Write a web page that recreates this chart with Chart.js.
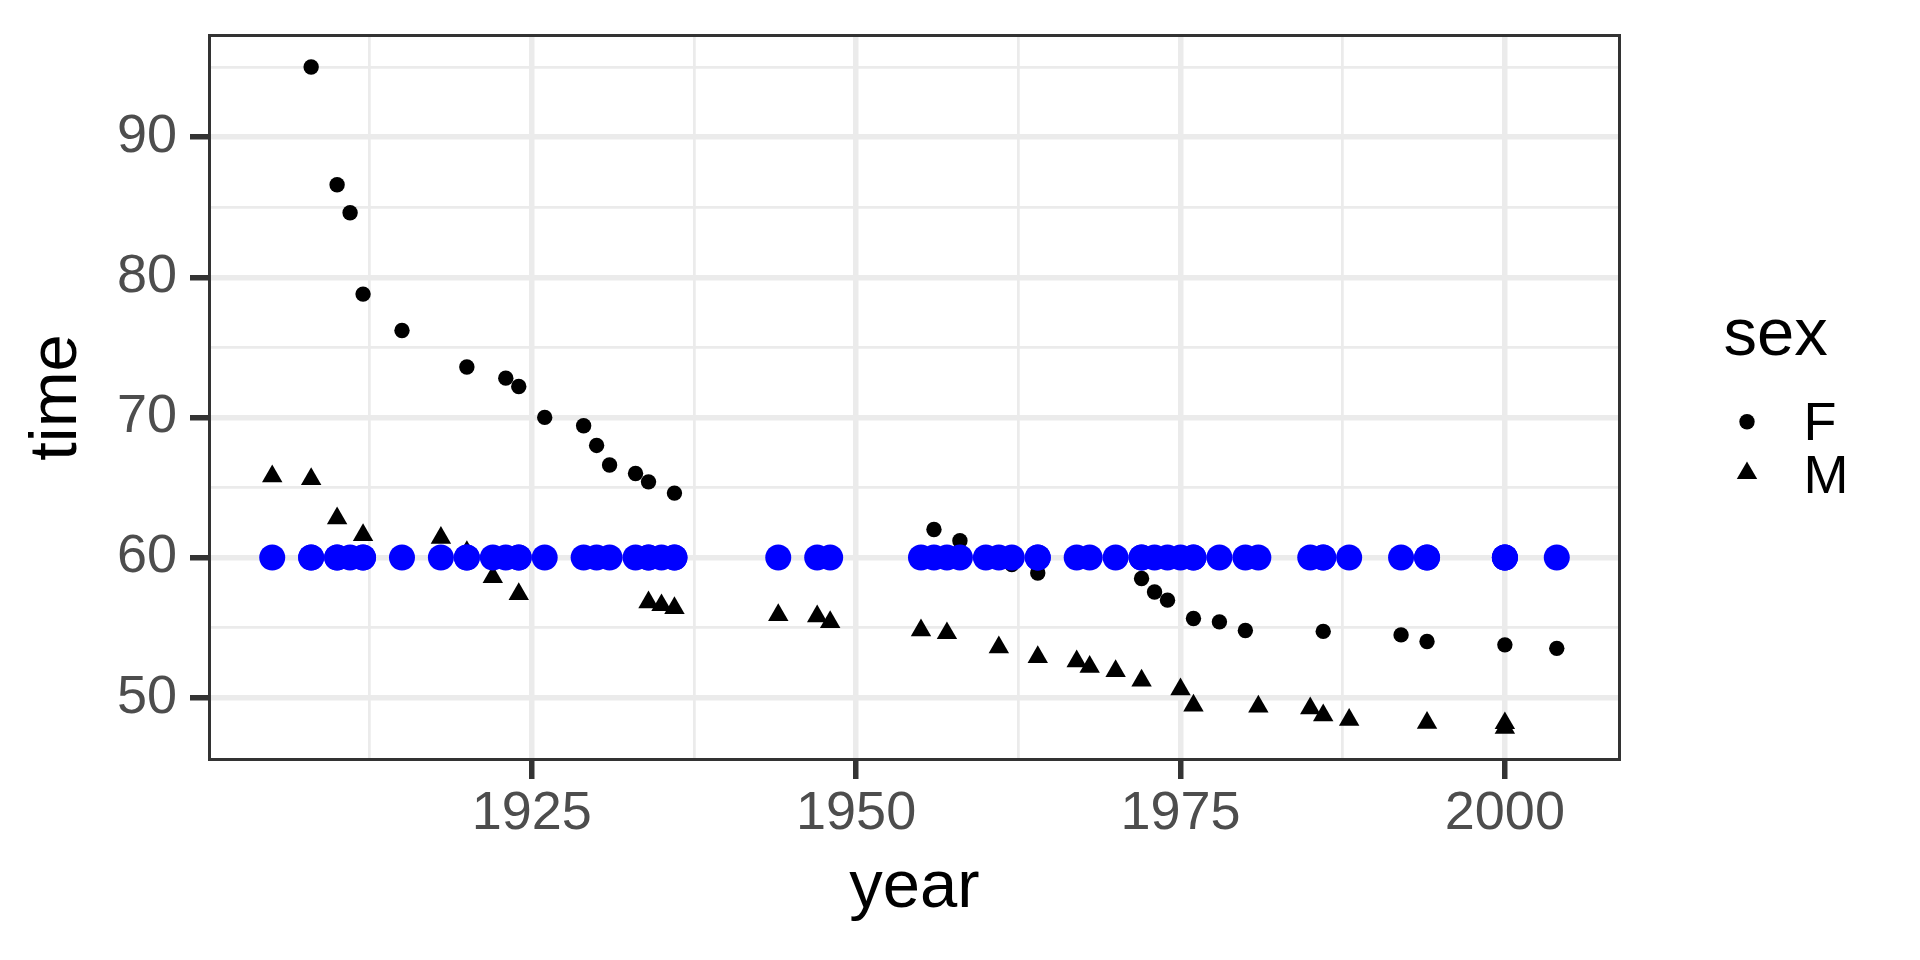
<!DOCTYPE html>
<html>
<head>
<meta charset="utf-8">
<script src="https://cdn.jsdelivr.net/npm/chart.js@4/dist/chart.umd.min.js"></script>
<style>
  html, body { margin: 0; padding: 0; background: #ffffff; }
  #wrap { width: 1920px; height: 960px; }
</style>
</head>
<body>
<div id="wrap"><canvas id="c" width="1920" height="960"></canvas></div>
<script>
// ---- data (100 m freestyle world records) ----
const maleYears = [1905,1908,1910,1912,1918,1920,1922,1924,1934,1935,1936,1944,1947,1948,1955,1957,1961,1964,1967,1968,1970,1972,1975,1976,1981,1985,1986,1988,1994,2000,2000];
const maleTimes = [65.8,65.6,62.8,61.6,61.4,60.4,58.6,57.4,56.8,56.6,56.4,55.9,55.8,55.4,54.8,54.6,53.6,52.9,52.6,52.2,51.9,51.22,50.59,49.44,49.36,49.24,48.74,48.42,48.21,48.18,47.84];
const femaleYears = [1908,1910,1911,1912,1915,1920,1923,1924,1926,1929,1930,1931,1933,1934,1936,1956,1958,1960,1962,1964,1972,1973,1974,1976,1978,1980,1986,1992,1994,2000,2004];
const femaleTimes = [95,86.6,84.6,78.8,76.2,73.6,72.8,72.2,70,69.4,68,66.6,66,65.4,64.6,62,61.2,60.2,59.5,58.9,58.5,57.54,56.96,55.65,55.41,54.79,54.73,54.48,54.01,53.77,53.52];
const refTime = 60;
const xTicks = [1912.5,1925,1937.5,1950,1962.5,1975,1987.5,2000];
const xMajor = [1925,1950,1975,2000];
const yTicks = [50,55,60,65,70,75,80,85,90,95];
const yMajor = [50,60,70,80,90];
const legendTitle = 'sex';
const legendLabels = ['F','M'];

const FONT = '"Liberation Sans", Arial, Helvetica, sans-serif';
Chart.defaults.font.family = FONT;

const allYears = maleYears.concat(femaleYears);
const xMin = 1905 - 0.05 * (2004 - 1905), xMax = 2004 + 0.05 * (2004 - 1905);
const yLo = 47.84, yHi = 95;
const yMin = yLo - 0.05 * (yHi - yLo), yMax = yHi + 0.05 * (yHi - yLo);

const GRID = '#EBEBEB', DARK = '#333333';
const MAJOR_W = 5.5, MINOR_W = 2.75;

const panelPlugin = {
  id: 'panel',
  afterDatasetsDraw(chart) {
    const {ctx, chartArea: a} = chart;
    ctx.save();
    ctx.strokeStyle = DARK;
    ctx.lineWidth = 3;
    ctx.strokeRect(a.left + 1.5, a.top + 1.5, a.right - a.left - 3, a.bottom - a.top - 3);
    ctx.restore();
  },
  afterDraw(chart) {
    const {ctx, chartArea: a} = chart;
    const cy = (a.top + a.bottom) / 2;
    const x0 = a.right;
    ctx.save();
    ctx.fillStyle = '#000000';
    ctx.textAlign = 'left';
    ctx.textBaseline = 'alphabetic';
    ctx.font = '67px ' + FONT;
    ctx.fillText(legendTitle, x0 + 102.5, cy - 42.5);
    ctx.font = '54px ' + FONT;
    ctx.fillText(legendLabels[0], x0 + 182.5, cy + 42.5);
    ctx.fillText(legendLabels[1], x0 + 182.5, cy + 95.8);
    Chart.helpers.drawPoint(ctx, {pointStyle: 'circle', radius: 7.7, rotation: 0, borderWidth: 0}, x0 + 126, cy + 24.2);
    ctx.fillStyle = '#000000';
    Chart.helpers.drawPoint(ctx, {pointStyle: 'triangle', radius: 11.8, rotation: 0, borderWidth: 0}, x0 + 126, cy + 75.7);
    ctx.restore();
  }
};

const toXY = (xs, ys) => xs.map((x, i) => ({x: x, y: ys[i]}));

new Chart(document.getElementById('c'), {
  type: 'scatter',
  data: {
    datasets: [
      {
        label: 'ref',
        data: allYears.map(x => ({x: x, y: refTime})),
        pointStyle: 'circle', pointRadius: 13, pointBorderWidth: 0,
        backgroundColor: '#0000FF', borderColor: '#0000FF', order: 0
      },
      {
        label: 'F',
        data: toXY(femaleYears, femaleTimes),
        pointStyle: 'circle', pointRadius: 7.7, pointBorderWidth: 0,
        backgroundColor: '#000000', borderColor: '#000000', order: 1
      },
      {
        label: 'M',
        data: toXY(maleYears, maleTimes),
        pointStyle: 'triangle', pointRadius: 11.8, pointBorderWidth: 0,
        backgroundColor: '#000000', borderColor: '#000000', order: 2
      }
    ]
  },
  options: {
    responsive: false,
    animation: false,
    events: [],
    devicePixelRatio: 1,
    layout: { padding: { top: 34, right: 299, bottom: 0, left: 0 } },
    plugins: { legend: { display: false }, tooltip: { enabled: false } },
    scales: {
      x: {
        type: 'linear', min: xMin, max: xMax,
        afterBuildTicks: s => { s.ticks = xTicks.map(v => ({value: v})); },
        afterFit: s => { s.height = 199; s.paddingLeft = 0; s.paddingRight = 0; },
        border: { display: false },
        grid: {
          color: GRID,
          lineWidth: c => (c.tick && xMajor.includes(c.tick.value)) ? MAJOR_W : MINOR_W,
          tickColor: c => (c.tick && xMajor.includes(c.tick.value)) ? DARK : 'rgba(0,0,0,0)',
          tickWidth: MAJOR_W,
          tickLength: 18,
          drawTicks: true
        },
        ticks: {
          autoSkip: false, maxRotation: 0, minRotation: 0,
          color: '#4D4D4D', padding: 8,
          font: { size: 54, lineHeight: 1 },
          callback: v => xMajor.includes(v) ? String(v) : ''
        },
        title: {
          display: true, text: 'year', color: '#000000',
          font: { size: 67, lineHeight: 1 },
          padding: { top: 0, bottom: 38 }
        }
      },
      y: {
        type: 'linear', min: yMin, max: yMax,
        afterBuildTicks: s => { s.ticks = yTicks.map(v => ({value: v})); },
        afterFit: s => { s.width = 208; s.paddingTop = 0; s.paddingBottom = 0; },
        border: { display: false },
        grid: {
          color: GRID,
          lineWidth: c => (c.tick && yMajor.includes(c.tick.value)) ? MAJOR_W : MINOR_W,
          tickColor: c => (c.tick && yMajor.includes(c.tick.value)) ? DARK : 'rgba(0,0,0,0)',
          tickWidth: MAJOR_W,
          tickLength: 18,
          drawTicks: true
        },
        ticks: {
          autoSkip: false,
          color: '#4D4D4D', padding: 13,
          font: { size: 54, lineHeight: 1 },
          callback: v => yMajor.includes(v) ? String(v) : ''
        },
        title: {
          display: true, text: 'time', color: '#000000',
          font: { size: 67, lineHeight: 1 },
          padding: { top: 24.5, bottom: 0 }
        }
      }
    }
  },
  plugins: [panelPlugin]
});
</script>
</body>
</html>
